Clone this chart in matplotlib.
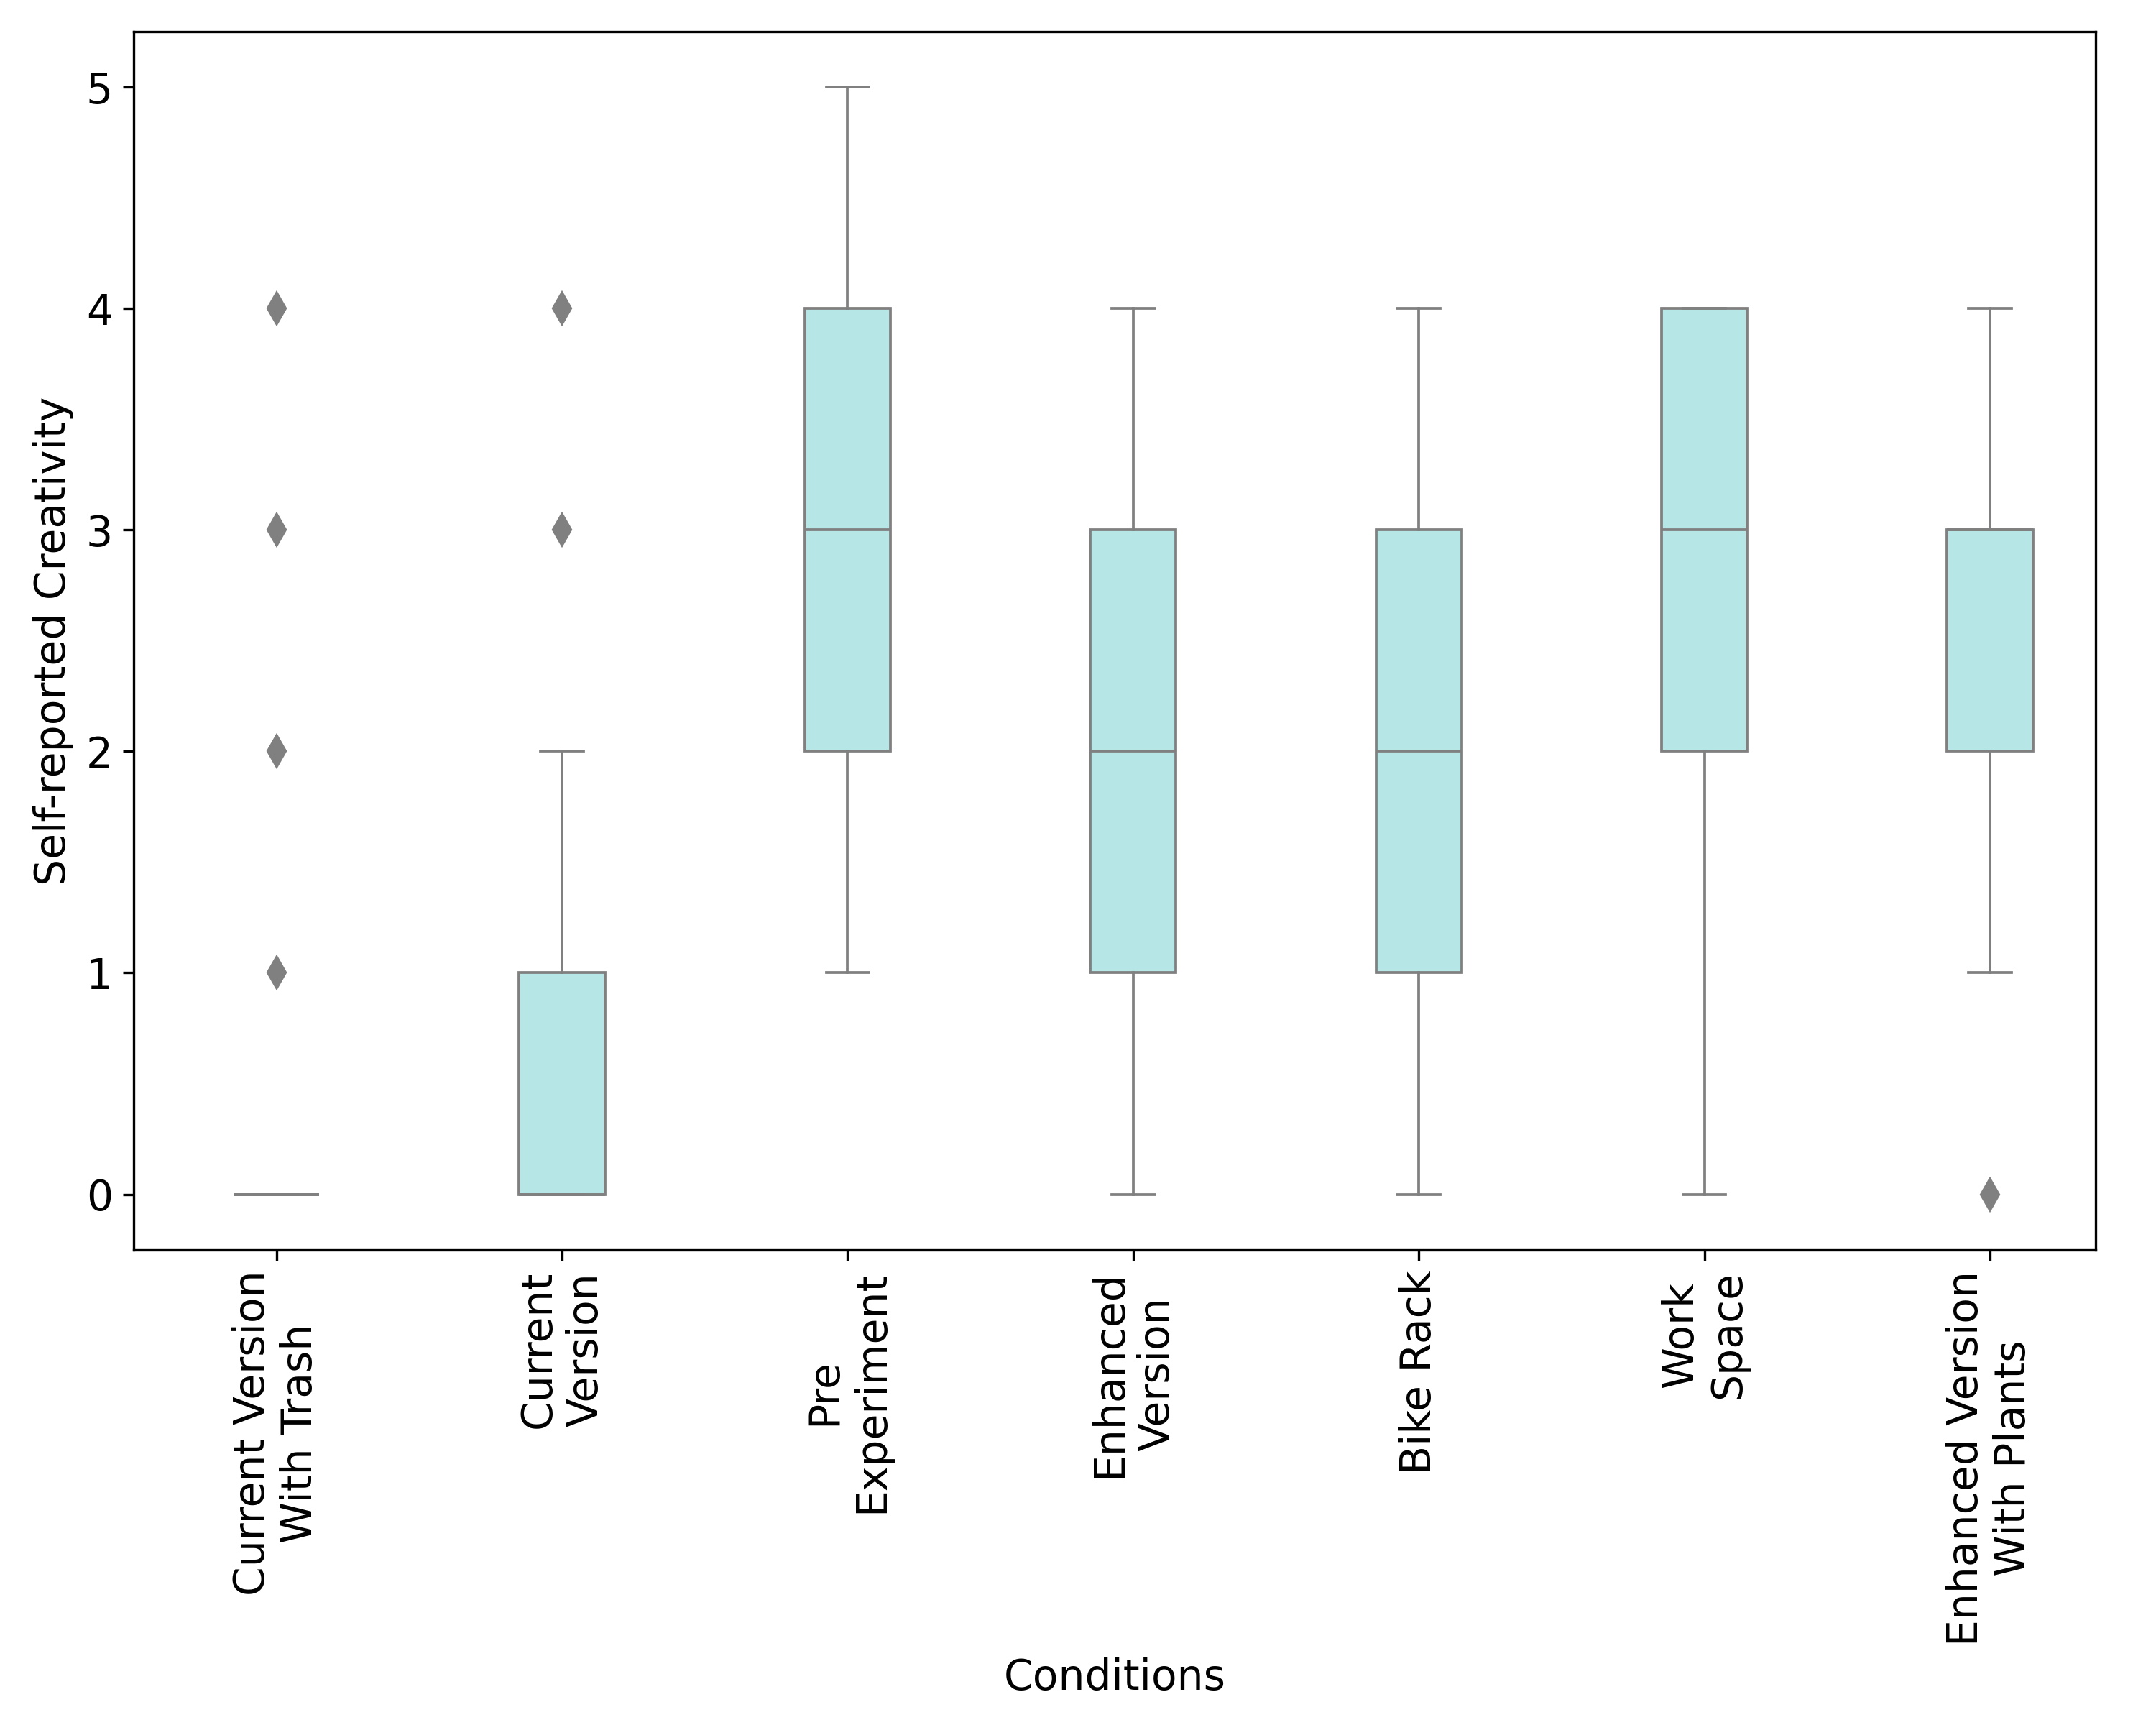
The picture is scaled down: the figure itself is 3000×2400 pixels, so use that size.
import matplotlib
matplotlib.use("Agg")
import matplotlib.pyplot as plt

categories = ["Current Version\nWith Trash", "Current\nVersion", "Pre\nExperiment",
              "Enhanced\nVersion", "Bike Rack", "Work\nSpace",
              "Enhanced Version\nWith Plants"]
q1 = [0, 0, 2, 1, 1, 2, 2]
med = [0, 0, 3, 2, 2, 3, 3]
q3 = [0, 1, 4, 3, 3, 4, 3]
whislo = [0, 0, 1, 0, 0, 0, 1]
whishi = [0, 2, 5, 4, 4, 4, 4]
fliers = [[1, 2, 3, 4], [3, 4], [], [], [], [], [0]]

plt.rcParams['font.family'] = ['DejaVu Sans']
fig = plt.figure(figsize=(10, 8), dpi=300)
ax = fig.add_axes([0.062, 0.2756, 0.910, 0.706])

stats = []
for i in range(len(categories)):
    stats.append(dict(q1=q1[i], med=med[i], q3=q3[i], whislo=whislo[i],
                      whishi=whishi[i], fliers=fliers[i], label=categories[i]))

grey = "#808080"
ax.bxp(stats, positions=range(len(categories)), widths=0.3, patch_artist=True,
       showfliers=True,
       boxprops=dict(facecolor="#b7e6e6", edgecolor=grey, linewidth=0.9),
       medianprops=dict(color=grey, linewidth=0.9),
       whiskerprops=dict(color=grey, linewidth=0.9),
       capprops=dict(color=grey, linewidth=0.9),
       capwidths=0.15,
       flierprops=dict(marker='d', markersize=7, markerfacecolor=grey,
                       markeredgecolor=grey, linestyle='none'))

ax.set_xlim(-0.5, 6.37)
ax.set_ylim(-0.25, 5.25)
ax.set_xticks(range(len(categories)))
ax.set_xticklabels(categories, rotation=90, fontsize=14)
ax.tick_params(axis='y', labelsize=14)
ax.set_yticks([0, 1, 2, 3, 4, 5])
ax.set_xlabel("Conditions", fontsize=14)
ax.set_ylabel("Self-reported Creativity", fontsize=14)

fig.savefig("out.png", dpi=300)
